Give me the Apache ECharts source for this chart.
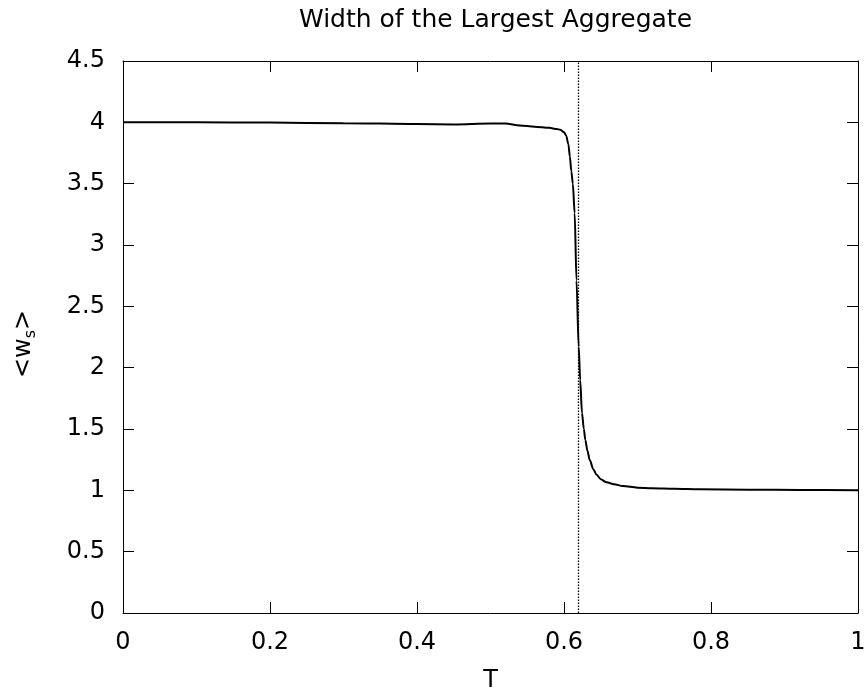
<!DOCTYPE html>
<html>
<head>
<meta charset="utf-8">
<script src="https://cdn.jsdelivr.net/npm/echarts@6/dist/echarts.min.js"></script>
<style>
  html, body { margin: 0; padding: 0; background: #fff; }
  #main { width: 865px; height: 693px; }
</style>
</head>
<body>
<div id="main"></div>
<script>
// 数据 ------------------
var temps = [0, 0.1, 0.2, 0.3, 0.4, 0.45, 0.5, 0.52, 0.54, 0.56, 0.58, 0.59, 0.595, 0.6, 0.603, 0.606,
  0.608, 0.61, 0.612, 0.6145, 0.617, 0.62, 0.622, 0.6245, 0.627, 0.629, 0.632, 0.635, 0.64, 0.644,
  0.65, 0.658, 0.668, 0.68, 0.7, 0.72, 0.75, 0.785, 0.85, 0.92, 1.0];
var widths = [4.0, 4.0, 3.998, 3.993, 3.986, 3.983, 3.99, 3.99, 3.975, 3.965, 3.955, 3.945, 3.94, 3.92, 3.89, 3.82,
  3.72, 3.6, 3.5, 3.26, 2.71, 2.17, 1.90, 1.63, 1.50, 1.41, 1.32, 1.247, 1.17, 1.13,
  1.09, 1.065, 1.05, 1.035, 1.022, 1.016, 1.012, 1.008, 1.005, 1.003, 1.0];
var tc = 0.618;   // 竖虚线位置

var font = 'DejaVu Sans';
var chart = echarts.init(document.getElementById('main'));

var points = [];
for (var i = 0; i < temps.length; i++) {
  points.push([temps[i], widths[i]]);
}

// 坐标轴共通设定(四边框)
function boxAxis(extra) {
  var base = {
    type: 'value',
    axisLine: { show: true, onZero: false, lineStyle: { color: '#000', width: 1 } },
    axisTick: { show: true, inside: true, length: 11, lineStyle: { color: '#000', width: 1 } },
    splitLine: { show: false },
    axisLabel: { color: '#000', fontFamily: font, fontSize: 24, margin: 18 }
  };
  return Object.assign(base, extra);
}

chart.setOption({
  backgroundColor: '#fff',
  animation: false,
  title: {
    text: 'Width of the Largest Aggregate',
    left: 294,
    top: 3,
    textStyle: { fontFamily: font, fontSize: 25, fontWeight: 'normal', color: '#000' }
  },
  grid: { left: 123, right: 7, top: 61, bottom: 80, outerBoundsMode: 'none', containLabel: false },
  xAxis: [
    boxAxis({
      min: 0, max: 1, interval: 0.2,
      name: 'T', nameLocation: 'middle', nameGap: 56,
      nameTextStyle: { fontFamily: font, fontSize: 24, color: '#000' }
    }),
    boxAxis({
      min: 0, max: 1, interval: 0.2, position: 'top',
      axisLabel: { show: false }
    })
  ],
  yAxis: [
    boxAxis({
      min: 0, max: 4.5, interval: 0.5,
      name: '{a|<w}{s|s}{a|>}', nameLocation: 'middle', nameGap: 84, nameRotate: 90,
      nameTextStyle: {
        fontFamily: font, fontSize: 24, color: '#000',
        padding: [0, 14, 0, 0],
        rich: {
          a: { fontFamily: font, fontSize: 24, color: '#000', lineHeight: 30 },
          s: { fontFamily: font, fontSize: 16, color: '#000', verticalAlign: 'bottom', lineHeight: 30 }
        }
      }
    }),
    boxAxis({
      min: 0, max: 4.5, interval: 0.5, position: 'right',
      axisLabel: { show: false }
    })
  ],
  series: [{
    type: 'line',
    data: points,
    showSymbol: false,
    smooth: 0.3,
    smoothMonotone: 'x',
    lineStyle: { color: '#000', width: 2 },
    markLine: {
      silent: true,
      symbol: ['none', 'none'],
      label: { show: false },
      lineStyle: { color: '#000', width: 1.3, type: [1.5, 1.5] },
      data: [{ xAxis: tc }]
    }
  }]
});
</script>
</body>
</html>
